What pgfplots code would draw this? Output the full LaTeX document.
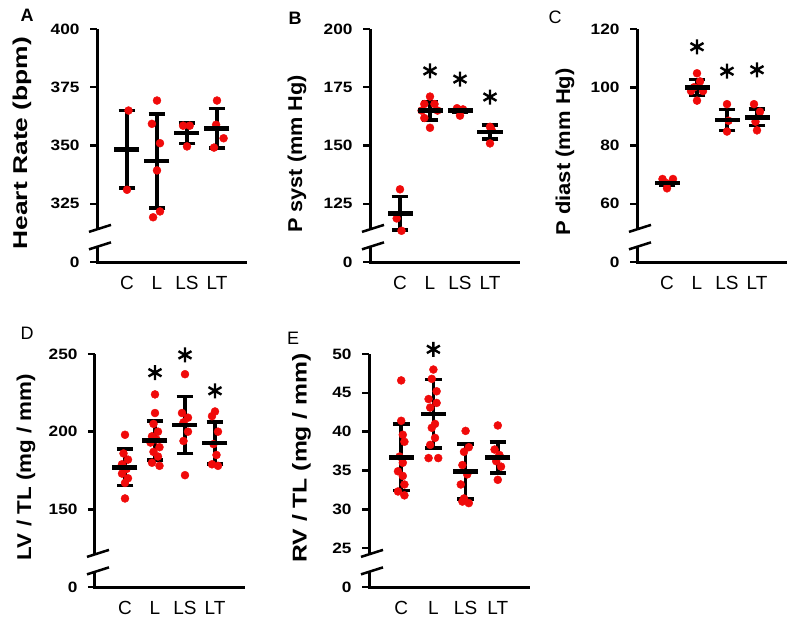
\documentclass[border=0pt]{standalone}
\usepackage{fontspec}
\setmainfont{Liberation Sans}
\newfontfamily\tickfont{Liberation Sans}[FakeStretch=1.15]
\usepackage{pgfplots}
\pgfplotsset{compat=1.18}
\definecolor{dotred}{RGB}{240,10,10}
\pgfplotsset{
  panel/.style={
    scale only axis, width=150pt, height=233pt,
    xmin=0, xmax=5, enlargelimits=false, clip=false,
    axis x line=bottom, axis y line=left,
    axis line style={-, line width=3pt, black},
    y axis line style={draw=none},
    xtick={1,2,3,4}, xticklabels={C,L,LS,LT},
    xtick style={draw=none},
    ytick style={line width=2.5pt, black},
    tick align=outside, major tick length=7pt,
    xticklabel style={font=\fontsize{19}{22}\selectfont, yshift=-4pt},
    yticklabel style={font=\tickfont\bfseries\fontsize{15}{18}\selectfont, xshift=-7pt},
    ylabel style={font=\bfseries\fontsize{20}{24}\selectfont, anchor=center},
  },
  dots/.style={only marks, mark=*, mark size=4pt, color=dotred, mark options={draw=none, fill=dotred}},
  star/.style={black, only marks, mark=asterisk, mark size=7.5pt, mark options={line width=2.4pt}},
  sdline/.style={black, line width=3.6pt, mark=none, unbounded coords=jump},
  msd/.style={black, line width=3.6pt, only marks, mark=-, mark size=12.5pt, mark options={line width=4.6pt},
    error bars/.cd, y dir=both, y explicit, error bar style={line width=3.6pt, black},
    error mark=|, error mark options={mark size=8.3pt, line width=3.6pt, black}},
}
\newcommand{\brokenaxis}{%
  \draw[line width=3pt] (rel axis cs:0,1) -- (rel axis cs:0,0.14);
  \draw[line width=3pt] (rel axis cs:0,0.065) -- ([yshift=-1.5pt]rel axis cs:0,0);
  \draw[line width=2.5pt] ([xshift=-8pt,yshift=-2.5pt]rel axis cs:0,0.14) -- ([xshift=14pt,yshift=4.5pt]rel axis cs:0,0.14);
  \draw[line width=2.5pt] ([xshift=-8pt,yshift=-2.5pt]rel axis cs:0,0.065) -- ([xshift=14pt,yshift=4.5pt]rel axis cs:0,0.065);
}
\begin{document}
\begin{tikzpicture}
\useasboundingbox (0,0) rectangle (790pt,625pt);
\node[font=\bfseries\fontsize{18}{20}\selectfont] at (27pt,610pt) {A};
\node[font=\bfseries\fontsize{18}{20}\selectfont] at (295pt,607pt) {B};
\node[font=\fontsize{18}{20}\selectfont] at (555pt,608pt) {C};
\node[font=\fontsize{18}{20}\selectfont] at (27pt,292pt) {D};
\node[font=\fontsize{18}{20}\selectfont] at (293pt,287pt) {E};

% ---------- A ----------
\begin{axis}[panel, at={(97pt,363pt)}, anchor=south west,
  ymin=300, ymax=400, ytick={300,325,350,375,400}, yticklabels={0,325,350,375,400},
  ylabel={Heart Rate (bpm)}, ylabel style={at={(axis description cs:-0.5,0.51)}, xscale=1.32}]
\addplot[dots] coordinates {(1.05,365) (1,331)
  (2,369.3) (1.83,359.3) (2.1,351) (2,339.3) (2.1,321.7) (1.87,319.2)
  (2.87,358.5) (3.09,358.5) (3,349.6)
  (4,369.3) (3.97,358.9) (4.22,353.1) (3.9,349.1)};
\addplot[sdline] coordinates {(1,331.8) (1,365) (1,nan) (2,323.3) (2,363.5) (2,nan) (3,350.85) (3,359.75) (3,nan) (4,348.85) (4,365.95)};
\addplot[msd] coordinates {(1,348.4) +- (0,16.6) (2,343.4) +- (0,20.1) (3,355.3) +- (0,4.45) (4,357.4) +- (0,8.55)};
\brokenaxis
\end{axis}

% ---------- B ----------
\begin{axis}[panel, at={(370pt,363pt)}, anchor=south west,
  ymin=100, ymax=200, ytick={100,125,150,175,200}, yticklabels={0,125,150,175,200},
  ylabel={P syst (mm Hg)}, ylabel style={at={(axis description cs:-0.487,0.464)}, xscale=1.085}]
\addplot[dots] coordinates {(1,131.2) (0.89,118.7) (1.05,113.4)
  (2,171) (1.81,167.8) (2.15,167.8) (1.72,165) (2.25,165) (1.81,161.8) (2,157.6)
  (2.9,166) (3.1,165.5) (3,162.8)
  (4,158) (4.05,156.8) (4,150.9)};
\addplot[sdline] coordinates {(1,113.75) (1,128.05) (1,nan) (2,161.05) (2,168.95) (2,nan) (4,152.85) (4,158.75)};
\addplot[msd] coordinates {(1,120.9) +- (0,7.15) (2,165) +- (0,3.95) (3,165) +- (0,0.5) (4,155.8) +- (0,2.95)};
\addplot[star] coordinates {(2,182) (3,178.5) (4,170.8)};
\brokenaxis
\end{axis}

% ---------- C ----------
\begin{axis}[panel, at={(637pt,363pt)}, anchor=south west,
  ymin=40, ymax=120, ytick={40,60,80,100,120}, yticklabels={0,60,80,100,120},
  ylabel={P diast (mm Hg)}, ylabel style={at={(axis description cs:-0.48,0.472)}, xscale=1.10}]
\addplot[dots] coordinates {(0.85,68.5) (1.2,68.5) (1,67) (1,65.3)
  (2,104.8) (2.1,102) (1.9,100) (1.8,98.7) (2.2,98.7) (2,95.4)
  (3,94.2) (3.05,88.5) (3,84.8)
  (3.9,94.2) (4.1,91.6) (3.95,88.2) (4,85.2)};
\addplot[sdline] coordinates {(2,97.1) (2,102.7) (2,nan) (3,85.2) (3,92.4) (3,nan) (4,86.9) (4,92.5)};
\addplot[msd] coordinates {(1,67.1) +- (0,0.6) (2,99.9) +- (0,2.8) (3,88.8) +- (0,3.6) (4,89.7) +- (0,2.8)};
\addplot[star] coordinates {(2,113.9) (3,105.5) (4,106)};
\brokenaxis
\end{axis}

% ---------- D ----------
\begin{axis}[panel, at={(95pt,38pt)}, anchor=south west,
  ymin=100, ymax=250, ytick={100,150,200,250}, yticklabels={0,150,200,250},
  ylabel={LV / TL (mg / mm)}, ylabel style={at={(axis description cs:-0.46,0.515)}, xscale=1.12}]
\addplot[dots] coordinates {(1,198) (0.95,186) (1.1,182) (0.9,179) (1.05,176) (0.9,173) (1.1,170) (1,167) (1,157)
  (2,224) (2,212) (1.95,205) (2.1,200) (1.9,197) (2.05,195) (1.85,193) (2.15,190) (1.95,187) (2.1,184) (1.9,180) (2.15,178)
  (3,237) (2.9,212) (3.1,209) (2.95,206) (3.1,200) (2.95,194) (3,172)
  (4,213) (3.9,210) (4.1,200) (3.95,192) (4.05,185) (3.9,179) (4.1,178)};
\addplot[sdline] coordinates {(1,165.35) (1,188.85) (1,nan) (2,181.6) (2,206.8) (2,nan) (3,185.95) (3,222.65) (3,nan) (4,179.1) (4,206.3)};
\addplot[msd] coordinates {(1,177.1) +- (0,11.75) (2,194.2) +- (0,12.6) (3,204.3) +- (0,18.35) (4,192.7) +- (0,13.6)};
\addplot[star] coordinates {(2,238) (3,249.4) (4,226.3)};
\brokenaxis
\end{axis}

% ---------- E ----------
\begin{axis}[panel, width=161pt, at={(369pt,38pt)}, anchor=south west,
  ymin=20, ymax=50, ytick={20,25,30,35,40,45,50}, yticklabels={0,25,30,35,40,45,50},
  ylabel={RV / TL (mg / mm)}, ylabel style={at={(axis description cs:-0.42,0.554)}, xscale=1.235}]
\addplot[dots] coordinates {(1,46.6) (1,41.4) (1.05,39.6) (1.1,38.7) (0.95,36.8) (1.05,36) (0.9,34.9) (1.05,34.3) (1.1,33.2) (0.9,32.3) (1.1,31.8)
  (2,48) (1.95,46.8) (2.1,45.2) (1.85,44.2) (2.1,43.7) (1.9,43.1) (2.05,41) (1.95,40.5) (2.05,39.2) (1.9,38.3) (1.85,36.6) (2.15,36.6)
  (3,40.1) (3.1,38) (2.95,37.4) (2.9,35.7) (3.05,34.5) (2.85,33.2) (2.95,31.4) (2.9,31) (3.1,30.8)
  (4,40.8) (3.9,37.7) (4.05,37) (3.95,36.2) (4.1,35.5) (4,33.8)};
\addplot[sdline] coordinates {(1,32.4) (1,41) (1,nan) (2,37.9) (2,46.7) (2,nan) (3,31.35) (3,38.45) (3,nan) (4,34.7) (4,38.7)};
\addplot[msd] coordinates {(1,36.7) +- (0,4.3) (2,42.3) +- (0,4.4) (3,34.9) +- (0,3.55) (4,36.7) +- (0,2.0)};
\addplot[star] coordinates {(2,50.6)};
\brokenaxis
\end{axis}
\end{tikzpicture}
\end{document}
